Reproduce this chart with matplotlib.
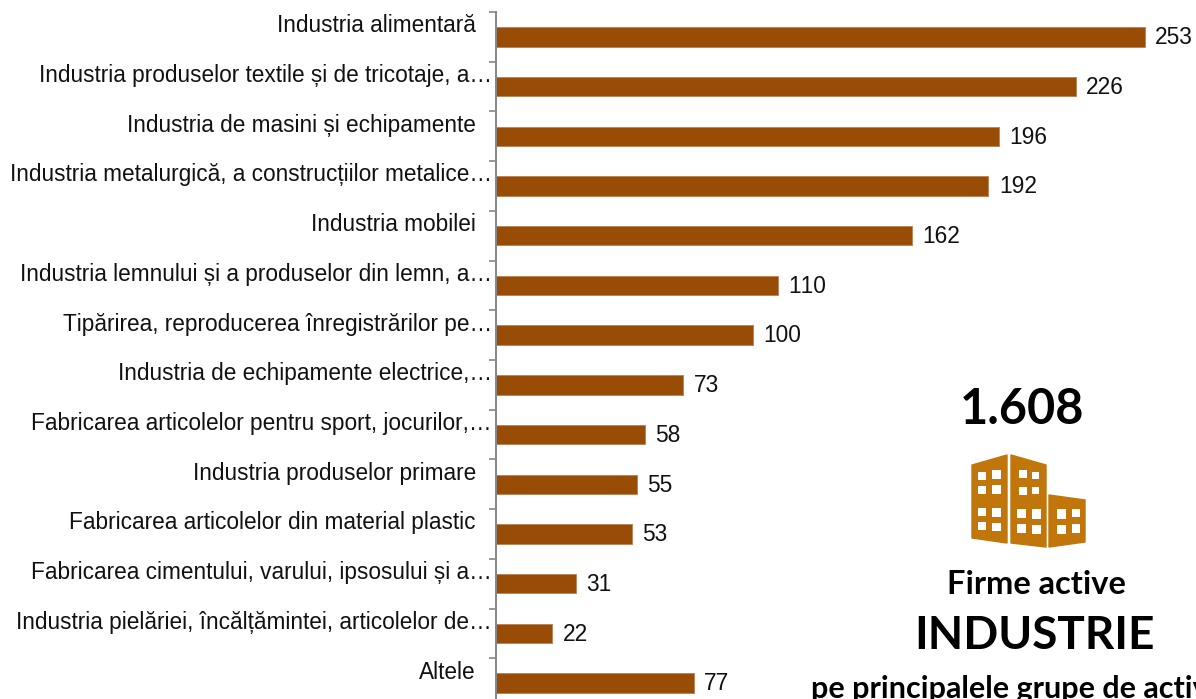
import matplotlib
matplotlib.use('Agg')
import matplotlib.pyplot as plt
from matplotlib.patches import Polygon, Rectangle
from matplotlib.transforms import Affine2D
import numpy as np

plt.rcParams['font.family'] = ['Liberation Sans', 'DejaVu Sans']
plt.rcParams['text.kerning_factor'] = 6

categorii = [
    'Industria alimentară',
    'Industria produselor textile și de tricotaje, a…',
    'Industria de masini și echipamente',
    'Industria metalurgică, a construcțiilor metalice…',
    'Industria mobilei',
    'Industria lemnului și a produselor din lemn, a…',
    'Tipărirea, reproducerea înregistrărilor pe…',
    'Industria de echipamente electrice,…',
    'Fabricarea articolelor pentru sport, jocurilor,…',
    'Industria produselor primare',
    'Fabricarea articolelor din material plastic',
    'Fabricarea cimentului, varului, ipsosului și a…',
    'Industria pielăriei, încălțămintei, articolelor de…',
    'Altele',
]
firme = [253, 226, 196, 192, 162, 110, 100, 73, 58, 55, 53, 31, 22, 77]

W, H = 1196, 699
MARO = '#984C06'
GRI = '#868686'
OCRU = '#C0760A'

fig = plt.figure(figsize=(W / 100, H / 100), dpi=100)
ax = fig.add_axes([496 / W, -9 / H, 700 / W, 696 / H])

y = np.arange(len(firme))
ax.barh(y, firme, height=0.39, color=MARO, edgecolor='#B9875A', linewidth=0.7)
ax.set_xlim(0, 700 / 2.565)
ax.set_ylim(len(firme) - 0.5, -0.5)

for s in ['top', 'right', 'bottom']:
    ax.spines[s].set_visible(False)
ax.spines['left'].set_color(GRI)
ax.spines['left'].set_linewidth(1.4)
ax.set_xticks([])
ax.set_yticks(np.arange(len(firme) + 1) - 0.5)
ax.set_yticklabels([])
ax.tick_params(axis='y', length=5, width=1.2, color=GRI)

for i, (c, v) in enumerate(zip(categorii, firme)):
    dx = -3 if c.endswith('…') else -14.5
    ax.annotate(c, (0, i), xytext=(dx, 8), textcoords='offset points',
                ha='right', va='center', fontsize=16.25, color='#111111')
    ax.annotate(str(v), (v, i), xytext=(7.5, -0.6), textcoords='offset points',
                ha='left', va='center', fontsize=16.4, color='#111111')

# textele din dreapta, in pixeli
px = Affine2D().scale(1, -1).translate(0, H)
fig.text(1022, 410, '1.608', transform=px, family='Lato', weight='bold', fontsize=35,
         ha='center', va='center', color='black')
fig.text(1036, 584, 'Firme active', transform=px, family='Lato', weight='bold', fontsize=23.5,
         ha='center', va='center', color='black')
fig.text(1035, 636, 'INDUSTRIE', transform=px, family='Lato', weight='bold', fontsize=33,
         ha='center', va='center', color='black')
fig.text(811, 689, 'pe principalele grupe de activități', transform=px, family='Lato', weight='bold',
         fontsize=22, ha='left', va='center', color='black')

# iconita cu cladiri
cladiri = [
    [(972, 465), (1007, 455), (1007, 543), (972, 538)],
    [(1011, 455), (1046, 465), (1046, 547), (1011, 543)],
    [(1049, 495), (1085, 500), (1085, 542), (1049, 547)],
]
ferestre = [
    (978, 472, 8, 8), (992, 470, 9, 9), (978, 486, 8, 8), (992, 485, 9, 9),
    (978, 508, 8, 8), (992, 508, 9, 9), (978, 522, 8, 8), (992, 523, 9, 8),
    (1019, 470, 8, 8), (1032, 472, 7, 7), (1019, 487, 8, 8), (1032, 487, 7, 7),
    (1017, 509, 9, 9), (1032, 509, 9, 10), (1017, 524, 9, 9), (1032, 525, 9, 9),
    (1057, 509, 9, 10), (1072, 509, 8, 8), (1057, 525, 9, 9), (1072, 524, 8, 9),
]
for c in cladiri:
    fig.add_artist(Polygon(c, closed=True, transform=px, facecolor=OCRU, edgecolor=OCRU,
                           linewidth=1, joinstyle='round'))
for fx, fy, fw, fh in ferestre:
    fig.add_artist(Rectangle((fx, fy), fw, fh, transform=px, facecolor='white', edgecolor='none'))

fig.savefig('out.png', dpi=100)
